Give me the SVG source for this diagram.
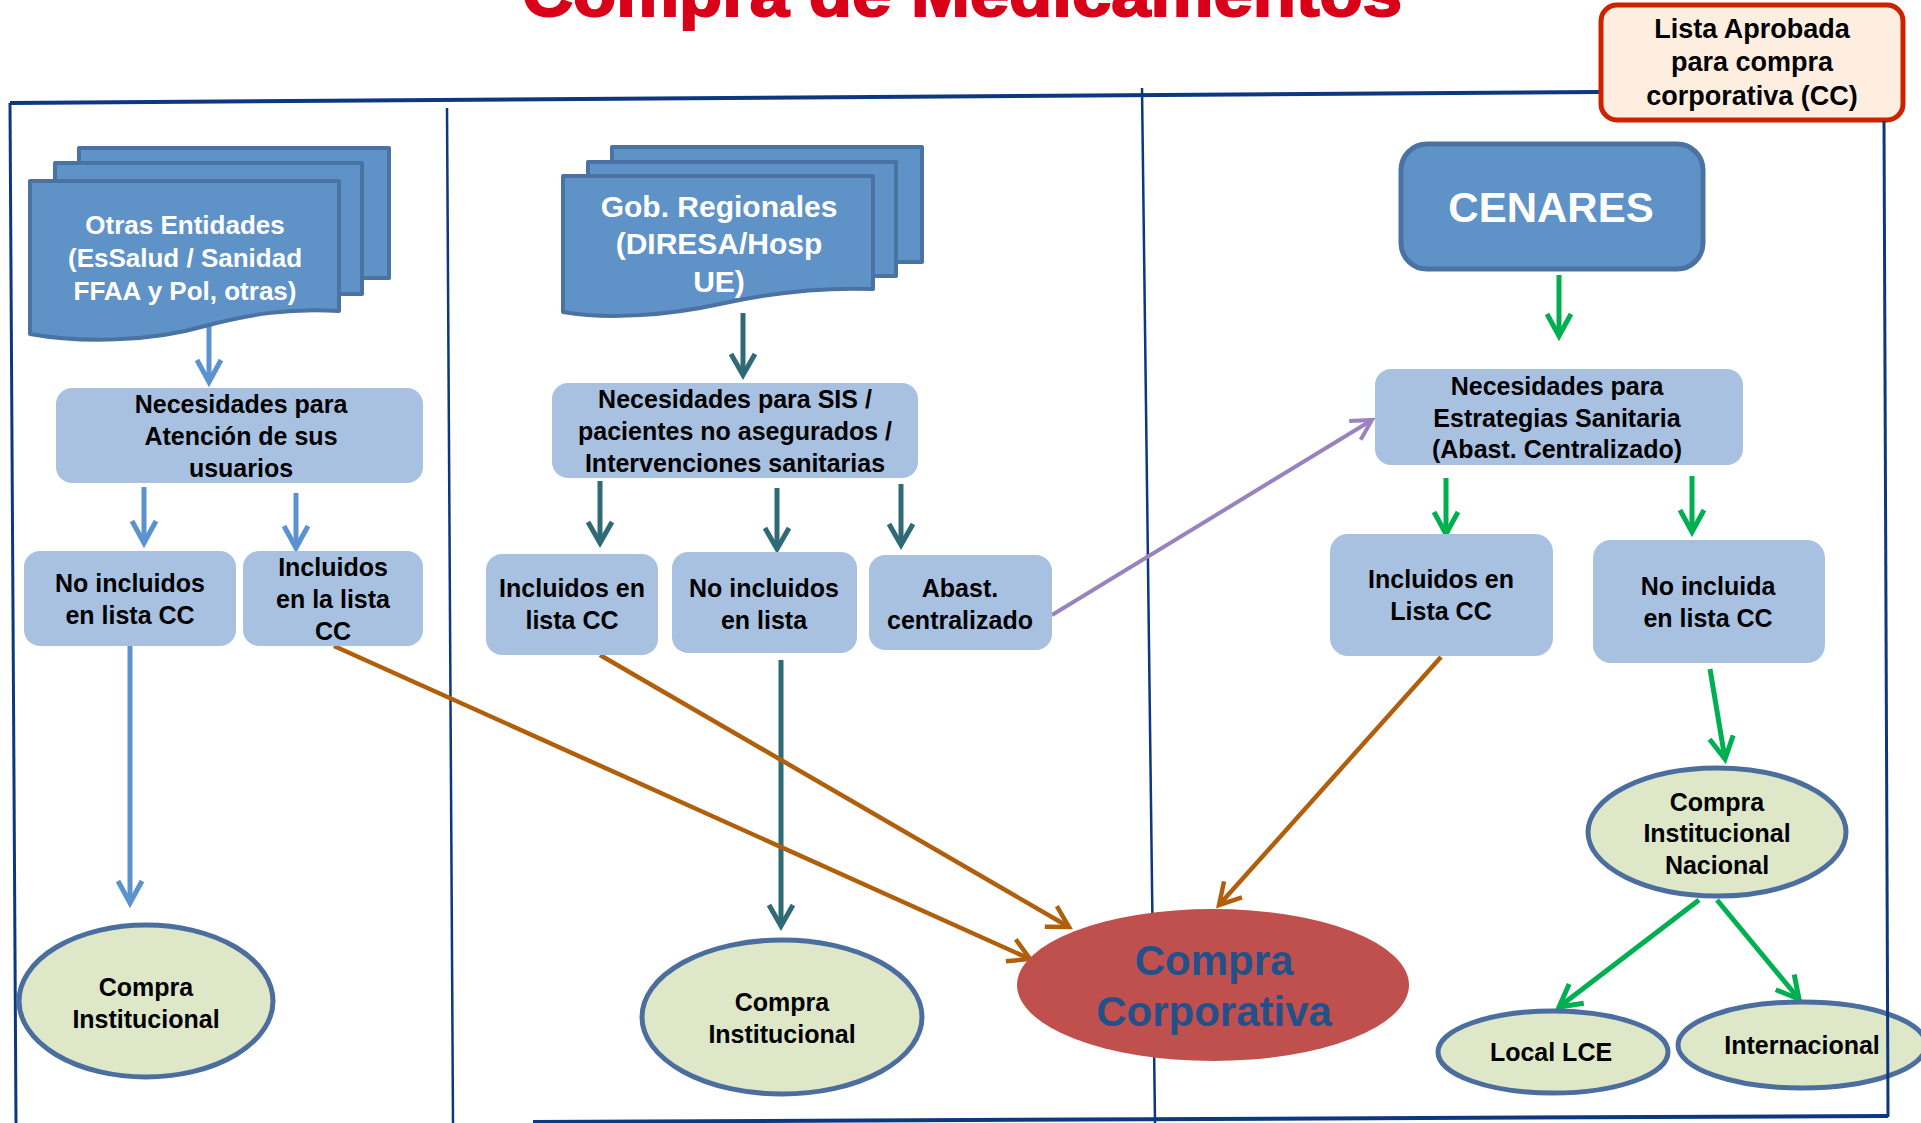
<svg xmlns="http://www.w3.org/2000/svg" width="1921" height="1123" viewBox="0 0 1921 1123">
<style>
.t{font-family:"Liberation Sans",Arial,sans-serif;font-weight:bold;text-anchor:middle;}
.bx{fill:#a8c1e0;}
.doc{fill:#5f93c8;stroke:#4a72a2;stroke-width:4;stroke-linejoin:round;}
.el{fill:#dfe7c9;stroke:#4b6e9e;stroke-width:5;}
.fr{stroke:#0d3880;fill:none;}
.blk{fill:#000;font-size:25px;}
.wh{fill:#fff;}
.cb{stroke:#5a93cf;stroke-width:5;fill:none;}
.ct{stroke:#2e6b77;stroke-width:5;fill:none;}
.cg{stroke:#00b050;stroke-width:5;fill:none;}
.co{stroke:#b0600c;stroke-width:4.5;fill:none;}
.cp{stroke:#9883be;stroke-width:4;fill:none;}
</style>
<defs>
<marker id="ab" markerUnits="userSpaceOnUse" markerWidth="34" markerHeight="34" viewBox="-28 -17 34 34" refX="0" refY="0" orient="auto"><path d="M-22,-12 L0,0 L-22,12" fill="none" stroke="#5a93cf" stroke-width="5"/></marker>
<marker id="at" markerUnits="userSpaceOnUse" markerWidth="34" markerHeight="34" viewBox="-28 -17 34 34" refX="0" refY="0" orient="auto"><path d="M-21,-12 L0,0 L-21,12" fill="none" stroke="#2e6b77" stroke-width="5"/></marker>
<marker id="ag" markerUnits="userSpaceOnUse" markerWidth="34" markerHeight="34" viewBox="-28 -17 34 34" refX="0" refY="0" orient="auto"><path d="M-22,-12 L0,0 L-22,12" fill="none" stroke="#00b050" stroke-width="5"/></marker>
<marker id="ao" markerUnits="userSpaceOnUse" markerWidth="34" markerHeight="34" viewBox="-28 -17 34 34" refX="0" refY="0" orient="auto"><path d="M-21,-12 L0,0 L-21,12" fill="none" stroke="#b0600c" stroke-width="4.5"/></marker>
<marker id="ap" markerUnits="userSpaceOnUse" markerWidth="34" markerHeight="34" viewBox="-28 -17 34 34" refX="0" refY="0" orient="auto"><path d="M-20,-11 L0,0 L-20,11" fill="none" stroke="#9883be" stroke-width="4"/></marker>
</defs>
<rect width="1921" height="1123" fill="#fff"/>

<text class="t" x="962" y="16" font-size="66" fill="#d9001a" stroke="#d9001a" stroke-width="2" textLength="880" lengthAdjust="spacingAndGlyphs">Compra de Medicamentos</text>

<g id="frame">
<line class="fr" x1="10" y1="103" x2="1600" y2="92" stroke-width="4"/>
<line class="fr" x1="10" y1="103" x2="16" y2="1123" stroke-width="3"/>
<line class="fr" x1="447" y1="108" x2="453" y2="1123" stroke-width="2.5"/>
<line class="fr" x1="1142" y1="88" x2="1155" y2="1123" stroke-width="2.5"/>
<line class="fr" x1="533" y1="1122" x2="1888" y2="1116" stroke-width="4"/>
</g>

<g id="connectors">
<line class="cb" x1="209" y1="325" x2="209" y2="382" marker-end="url(#ab)"/>
<line class="cb" x1="144" y1="487" x2="144" y2="543" marker-end="url(#ab)"/>
<line class="cb" x1="296" y1="493" x2="296" y2="548" marker-end="url(#ab)"/>
<line class="cb" x1="130" y1="646" x2="130" y2="903" marker-end="url(#ab)"/>
<line class="ct" x1="743" y1="313" x2="743" y2="375" marker-end="url(#at)"/>
<line class="ct" x1="600" y1="481" x2="600" y2="543" marker-end="url(#at)"/>
<line class="ct" x1="777" y1="488" x2="777" y2="549" marker-end="url(#at)"/>
<line class="ct" x1="901" y1="484" x2="901" y2="545" marker-end="url(#at)"/>
<line class="ct" x1="781" y1="660" x2="781" y2="926" marker-end="url(#at)"/>
<line class="co" x1="334" y1="646" x2="1030" y2="959" marker-end="url(#ao)"/>
<line class="co" x1="600" y1="655" x2="1069" y2="927" marker-end="url(#ao)"/>
<line class="co" x1="1441" y1="657" x2="1219" y2="905" marker-end="url(#ao)"/>
<line class="cp" x1="1052" y1="615" x2="1372" y2="420" marker-end="url(#ap)"/>
<line class="cg" x1="1559" y1="275" x2="1559" y2="336" marker-end="url(#ag)"/>
<line class="cg" x1="1446" y1="478" x2="1446" y2="534" marker-end="url(#ag)"/>
<line class="cg" x1="1692" y1="476" x2="1692" y2="532" marker-end="url(#ag)"/>
<line class="cg" x1="1710" y1="669" x2="1725" y2="759" marker-end="url(#ag)"/>
<line class="cg" x1="1699" y1="900" x2="1559" y2="1007" marker-end="url(#ag)"/>
<line class="cg" x1="1717" y1="900" x2="1799" y2="999" marker-end="url(#ag)"/>
</g>

<g id="lista">
<rect x="1601" y="5" width="302" height="115" rx="16" fill="#fdeee0" stroke="#cc2200" stroke-width="5"/>
<text class="t" x="1752" y="38" font-size="27">Lista Aprobada</text>
<text class="t" x="1752" y="71" font-size="27">para compra</text>
<text class="t" x="1752" y="105" font-size="27">corporativa (CC)</text>
</g>

<g id="otras-entidades">
<rect class="doc" x="79" y="148" width="310" height="130"/>
<rect class="doc" x="55" y="163" width="307" height="131"/>
<path class="doc" d="M30,181 H339 V311 C290,308 250,314 205,326 C150,342 80,343 30,334 Z"/>
<text class="t wh" x="185" y="234" font-size="26">Otras Entidades</text>
<text class="t wh" x="185" y="267" font-size="26">(EsSalud / Sanidad</text>
<text class="t wh" x="185" y="300" font-size="26">FFAA y Pol, otras)</text>
</g>

<g id="nec-atencion">
<rect class="bx" x="56" y="388" width="367" height="95" rx="16"/>
<text class="t blk" x="241" y="413">Necesidades para</text>
<text class="t blk" x="241" y="445">Atención de sus</text>
<text class="t blk" x="241" y="477">usuarios</text>
</g>

<g id="no-incluidos-cc-1">
<rect class="bx" x="24" y="551" width="212" height="95" rx="16"/>
<text class="t blk" x="130" y="592">No incluidos</text>
<text class="t blk" x="130" y="624">en lista CC</text>
</g>

<g id="incluidos-cc-1">
<rect class="bx" x="243" y="551" width="180" height="95" rx="16"/>
<text class="t blk" x="333" y="576">Incluidos</text>
<text class="t blk" x="333" y="608">en la lista</text>
<text class="t blk" x="333" y="640">CC</text>
</g>

<g id="compra-inst-1">
<ellipse class="el" cx="146" cy="1001" rx="127" ry="76"/>
<text class="t blk" x="146" y="996">Compra</text>
<text class="t blk" x="146" y="1028">Institucional</text>
</g>

<g id="gob-regionales">
<rect class="doc" x="612" y="147" width="310" height="115"/>
<rect class="doc" x="588" y="162" width="308" height="114"/>
<path class="doc" d="M563,176 H873 V289 C820,287 770,293 720,304 C670,315 610,320 563,312 Z"/>
<text class="t wh" x="719" y="217" font-size="30">Gob. Regionales</text>
<text class="t wh" x="719" y="254" font-size="30">(DIRESA/Hosp</text>
<text class="t wh" x="719" y="292" font-size="30">UE)</text>
</g>

<g id="nec-sis">
<rect class="bx" x="552" y="383" width="366" height="95" rx="16"/>
<text class="t blk" x="735" y="408">Necesidades para SIS /</text>
<text class="t blk" x="735" y="440">pacientes no asegurados /</text>
<text class="t blk" x="735" y="472">Intervenciones sanitarias</text>
</g>

<g id="incluidos-cc-2">
<rect class="bx" x="486" y="554" width="172" height="101" rx="16"/>
<text class="t blk" x="572" y="597">Incluidos en</text>
<text class="t blk" x="572" y="629">lista CC</text>
</g>

<g id="no-incluidos-lista">
<rect class="bx" x="672" y="552" width="185" height="101" rx="16"/>
<text class="t blk" x="764" y="597">No incluidos</text>
<text class="t blk" x="764" y="629">en lista</text>
</g>

<g id="abast-centralizado">
<rect class="bx" x="869" y="555" width="183" height="95" rx="16"/>
<text class="t blk" x="960" y="597">Abast.</text>
<text class="t blk" x="960" y="629">centralizado</text>
</g>

<g id="compra-inst-2">
<ellipse class="el" cx="782" cy="1017" rx="140" ry="77"/>
<text class="t blk" x="782" y="1011">Compra</text>
<text class="t blk" x="782" y="1043">Institucional</text>
</g>

<g id="compra-corporativa">
<ellipse cx="1213" cy="985" rx="196" ry="76" fill="#c0504d"/>
<text class="t" x="1214" y="975" font-size="42" fill="#24508a">Compra</text>
<text class="t" x="1214" y="1026" font-size="42" fill="#24508a">Corporativa</text>
</g>

<g id="cenares">
<rect x="1401" y="144" width="302" height="125" rx="26" fill="#5f93c8" stroke="#4a72a2" stroke-width="5"/>
<text class="t wh" x="1551" y="222" font-size="42">CENARES</text>
</g>

<g id="nec-estrategias">
<rect class="bx" x="1375" y="369" width="368" height="96" rx="16"/>
<text class="t blk" x="1557" y="395">Necesidades para</text>
<text class="t blk" x="1557" y="427">Estrategias Sanitaria</text>
<text class="t blk" x="1557" y="458">(Abast. Centralizado)</text>
</g>

<g id="incluidos-cc-3">
<rect class="bx" x="1330" y="534" width="223" height="122" rx="18"/>
<text class="t blk" x="1441" y="588">Incluidos en</text>
<text class="t blk" x="1441" y="620">Lista CC</text>
</g>

<g id="no-incluida-cc">
<rect class="bx" x="1593" y="540" width="232" height="123" rx="18"/>
<text class="t blk" x="1708" y="595">No incluida</text>
<text class="t blk" x="1708" y="627">en lista CC</text>
</g>

<g id="compra-inst-nacional">
<ellipse class="el" cx="1717" cy="832" rx="129" ry="64"/>
<text class="t blk" x="1717" y="811">Compra</text>
<text class="t blk" x="1717" y="842">Institucional</text>
<text class="t blk" x="1717" y="874">Nacional</text>
</g>

<g id="local-lce">
<ellipse class="el" cx="1553" cy="1052" rx="115" ry="41"/>
<text class="t blk" x="1551" y="1061">Local LCE</text>
</g>

<g id="internacional">
<ellipse class="el" cx="1802" cy="1045" rx="124" ry="43"/>
<text class="t blk" x="1802" y="1054">Internacional</text>
</g>

<g id="frame-right">
<line class="fr" x1="1884" y1="121" x2="1888" y2="1117" stroke-width="3"/>
</g>
</svg>
